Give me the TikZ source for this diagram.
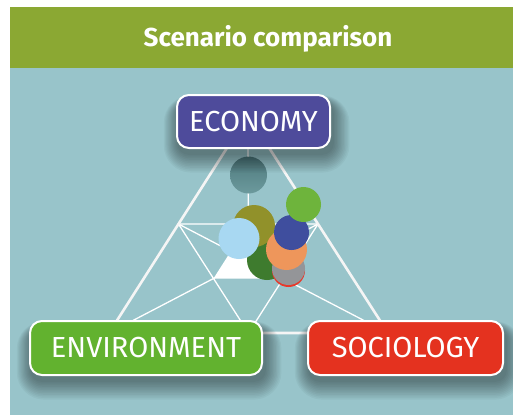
\documentclass[tikz,border=0pt]{standalone}
\usepackage{fontspec}
\setmainfont{Fira Sans}
\usepackage{xcolor}
\usetikzlibrary{calc}

\definecolor{headgreen}{HTML}{8BA833}
\definecolor{panelteal}{HTML}{98C4CA}
\definecolor{econblue}{HTML}{4E4B9B}
\definecolor{envgreen}{HTML}{62B22F}
\definecolor{socred}{HTML}{E4321F}

\pgfdeclarelayer{shade}
\pgfdeclarelayer{front}
\pgfsetlayers{main,shade,front}

% soft shadow under a label box
\newcommand{\halo}[1]{%
	\begin{pgfonlayer}{shade}
		\begin{scope}
			\clip (10,68) rectangle (513,415);
			\foreach \g in {0,...,11}{
				\fill[black, fill opacity=0.035, rounded corners=12pt+1.4*\g pt]
					($(#1.north west)+(-1.2*\g+1,-0.6*\g+8)$) rectangle ($(#1.south east)+(1.4*\g+3,1.6*\g+6)$);
			}
		\end{scope}
	\end{pgfonlayer}}

\begin{document}
\begin{tikzpicture}[
		x=1pt, y=-1pt,
		box/.style={draw=white, line width=2pt, rounded corners=12pt, minimum height=53pt,
			inner sep=0pt, text=white, font=\fontsize{29}{30}\selectfont},
		dot/.style={circle, inner sep=0pt, minimum size=#1},
		frame/.style={draw=white!92!gray, line width=2.6pt},
		grid/.style={draw=white, line width=1.3pt},
		]
		\useasboundingbox (0,0) rectangle (513,415);
		
		% Header band and panel
		\fill[white] (0,0) rectangle (513,415);
		\fill[headgreen] (10,7) rectangle (513,68);
		\fill[panelteal] (10,68) rectangle (513,415);
		\node[anchor=base, text=white, font=\bfseries\fontsize{26}{27}\selectfont] (title) at (268,46.5) {Scenario comparison};
		
		% Triangle corners and midpoints
		\coordinate (A) at (248,115);
		\coordinate (B) at (109,333);
		\coordinate (C) at (388,333);
		\coordinate (mAB) at ($(A)!0.5!(B)$);
		\coordinate (mAC) at ($(A)!0.5!(C)$);
		\coordinate (mBC) at ($(B)!0.5!(C)$);
		\coordinate (P) at ($(B)!0.5!(mAC)$);
		\coordinate (Q) at ($(C)!0.5!(mAB)$);
		\coordinate (T) at ($(mAB)!0.5!(mAC)$);
		
		% Inner lines
		\fill[white] (P) -- (Q) -- (T) -- cycle;
		\draw[grid] (mAB) -- (mAC) -- (mBC) -- cycle;
		\draw[grid] (B) -- (mAC);
		\draw[grid] (C) -- (mAB);
		\draw[grid] (A) -- (T);
		\draw[frame] (A) -- (B) -- (C) -- cycle;
		
		% Scenario dots
		\node[dot=37pt, top color={rgb,255:red,78;green,121;blue,125}, bottom color={rgb,255:red,108;green,154;blue,157}] (d1) at (248.5,175) {};
		\node[dot=40pt, fill={rgb,255:red,62;green,123;blue,46}] (d2) at (267,260) {};
		\node[dot=42pt, fill={rgb,255:red,145;green,145;blue,42}] (d3) at (254,226) {};
		\node[dot=41pt, fill={rgb,255:red,168;green,216;blue,242}] (d4) at (239,238.5) {};
		\node[dot=33pt, fill={rgb,255:red,232;green,56;blue,42}] (d5) at (288.5,270.5) {};
		\node[dot=33pt, fill={rgb,255:red,148;green,149;blue,152}] (d6) at (288.5,268.5) {};
		\node[dot=41pt, fill={rgb,255:red,238;green,150;blue,91}] (d7) at (286.5,249.5) {};
		\node[dot=35pt, fill={rgb,255:red,63;green,78;blue,158}] (d8) at (291.5,232.5) {};
		\node[dot=35pt, fill={rgb,255:red,110;green,180;blue,60}] (d9) at (303.5,204.5) {};
		
		% Labels on the corners
		\begin{pgfonlayer}{front}
			\node[box, fill=econblue, minimum width=153pt] (econ) at (253.5,121.5) {ECONOMY};
			\node[box, fill=envgreen, minimum width=232pt, minimum height=54pt] (env) at (146,348) {ENVIRONMENT};
			\node[box, fill=socred, minimum width=195pt, minimum height=54pt] (soc) at (405.5,348) {SOCIOLOGY};
		\end{pgfonlayer}
		\halo{econ}
		\halo{env}
		\halo{soc}
		
	\end{tikzpicture}
\end{document}
